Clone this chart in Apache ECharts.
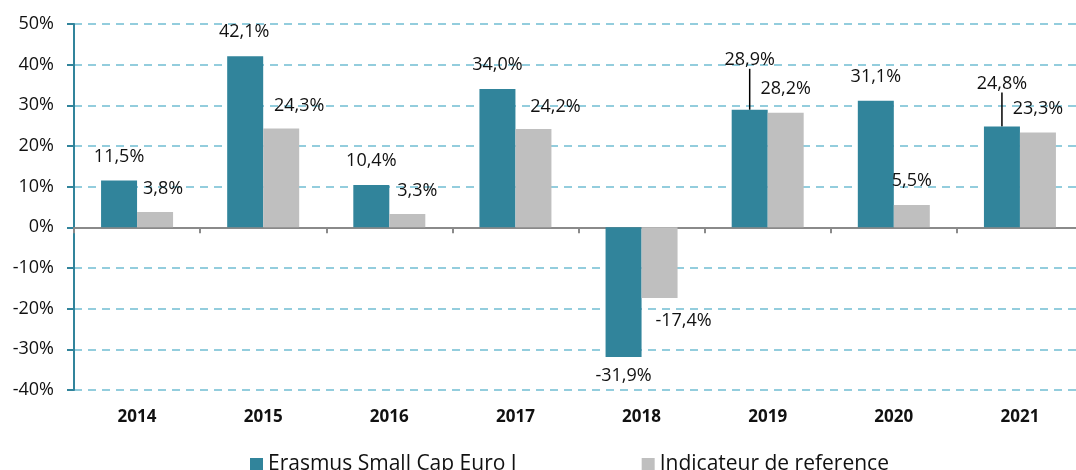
<!DOCTYPE html>
<html>
<head>
<meta charset="utf-8">
<script src="https://cdn.jsdelivr.net/npm/echarts@6/dist/echarts.min.js"></script>
<style>
  html, body { margin: 0; padding: 0; background: #fff; }
  #chart { width: 1076px; height: 470px; }
</style>
</head>
<body>
<div id="chart"></div>
<script>
  var years = ['2014', '2015', '2016', '2017', '2018', '2019', '2020', '2021'];
  var fundValues = [11.5, 42.1, 10.4, 34.0, -31.9, 28.9, 31.1, 24.8];
  var indexValues = [3.8, 24.3, 3.3, 24.2, -17.4, 28.2, 5.5, 23.3];
  var yMin = -40, yMax = 50, yStep = 10;
  var fundName = 'Erasmus Small Cap Euro I';
  var indexName = 'Indicateur de reference';

  // hand placed labels, as in the source sheet: [dx, dy] from the bar end
  var fundShift = [[0, -15], [-1, -15], [0, -15], [0, -15], [0, 10], [0, -34], [0, -15], [0, -27]];
  var indexShift = [[8, -14], [18, -14], [10, -14], [22, -13], [24, 14], [0, -15], [0, -15], [0, -15]];
  var leaders = [5, 7];

  var teal = '#31849b', grey = '#bfbfbf', ink = '#111', font = '"Open Sans"';

  function fmt(v) { return v.toFixed(1).replace('.', ',') + '%'; }

  function items(values, withLeaders) {
    return values.map(function(v, i) {
      var it = { value: v, label: { position: v < 0 ? 'bottom' : 'top' } };
      if (withLeaders && leaders.indexOf(i) >= 0) {
        it.label.padding = [0, 0, 7, 0];
        it.labelLine = { show: true, lineStyle: { color: '#000', width: 1.5 } };
      }
      return it;
    });
  }

  var chart = echarts.init(document.getElementById('chart'), null, { renderer: 'canvas' });
  var labelBase = { show: true, distance: 0, color: ink, fontFamily: font, fontSize: 18,
    formatter: function(p) { return fmt(p.value); } };

  chart.setOption({
    animation: false,
    textStyle: { fontFamily: font },
    // plot runs a little past the right edge of the picture, as in the original
    grid: { left: 74, width: 1009, top: 24, height: 366, outerBoundsMode: 'none', containLabel: false },
    legend: {
      top: 449, left: 245, itemWidth: 13, itemHeight: 13, itemGap: 125,
      icon: 'rect', textStyle: { fontSize: 21, color: ink, fontFamily: font },
      data: [fundName, indexName]
    },
    xAxis: [{
      type: 'category', data: years,
      axisLine: { onZero: true, lineStyle: { color: '#8a8a8a', width: 2 } },
      axisTick: { show: true, length: 6, lineStyle: { color: '#8a8a8a', width: 2 } },
      axisLabel: { show: false }
    }, {
      type: 'category', data: years, position: 'bottom',
      axisLine: { show: false, onZero: false }, axisTick: { show: false },
      axisLabel: { margin: 19, fontSize: 17, fontWeight: 'bold', color: ink, fontFamily: font }
    }],
    yAxis: {
      type: 'value', min: yMin, max: yMax, interval: yStep,
      axisLine: { show: true, lineStyle: { color: teal, width: 2 } },
      axisTick: { show: true, length: 7, lineStyle: { color: teal, width: 2 } },
      axisLabel: { fontSize: 18, color: ink, margin: 20, fontFamily: font, formatter: '{value}%' },
      splitLine: { lineStyle: { color: '#93cddd', type: [8, 6], width: 2 } }
    },
    series: [{
      name: fundName, type: 'bar', xAxisIndex: 0, barWidth: 36, barGap: '0%',
      itemStyle: { color: teal }, data: items(fundValues, true),
      label: labelBase,
      labelLayout: function(p) { var s = fundShift[p.dataIndex]; return { dx: s[0], dy: s[1] }; }
    }, {
      name: indexName, type: 'bar', xAxisIndex: 0, barWidth: 36, barGap: '0%',
      itemStyle: { color: grey }, data: items(indexValues, false),
      label: labelBase,
      labelLayout: function(p) { var s = indexShift[p.dataIndex]; return { dx: s[0], dy: s[1] }; }
    }]
  });
</script>
</body>
</html>
